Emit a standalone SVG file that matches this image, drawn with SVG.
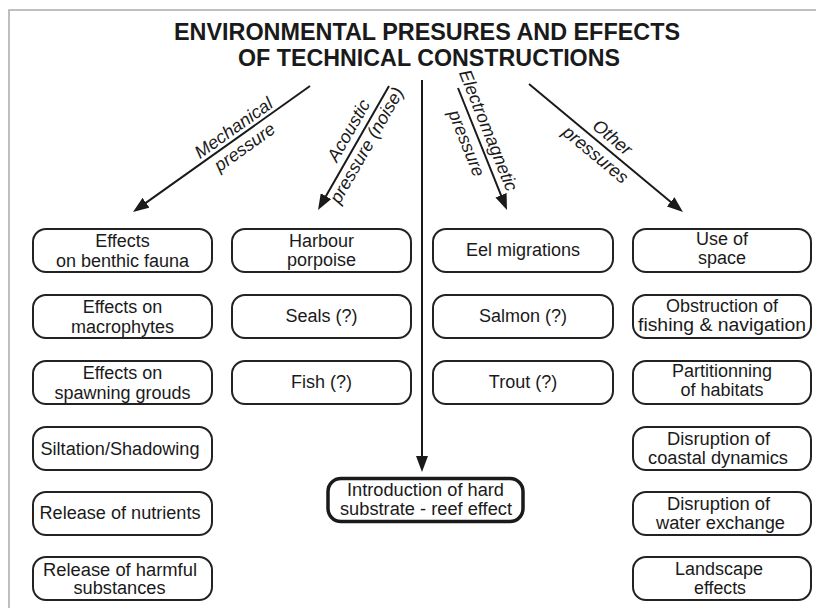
<svg xmlns="http://www.w3.org/2000/svg" width="816" height="608" viewBox="0 0 816 608">
<defs>
<marker id="ah" markerWidth="16" markerHeight="12" refX="8" refY="6" orient="auto" markerUnits="userSpaceOnUse"><path d="M0,0 L16,6 L0,12 z" fill="#1a1a1a"/></marker>
<style>
.bx{fill:#fff;stroke:#222;stroke-width:2}
.bxk{fill:#fff;stroke:#1a1a1a;stroke-width:3.5}
.t{font-family:"Liberation Sans",Arial,sans-serif;font-size:18px;fill:#1a1a1a;text-anchor:middle}
.c{font-family:"Liberation Sans",Arial,sans-serif;font-size:18px;fill:#1a1a1a;text-anchor:middle}
.lb{font-family:"Liberation Sans",Arial,sans-serif;font-size:18px;font-style:italic;fill:#1a1a1a;text-anchor:middle}
.ttl{font-family:"Liberation Sans",Arial,sans-serif;font-size:23px;font-weight:bold;fill:#1a1a1a;text-anchor:middle}
.ln{stroke:#1a1a1a;stroke-width:2;fill:none}
</style>
</defs>
<rect width="816" height="608" fill="#fff"/>
<path d="M9,608 V10 H816" stroke="#aaa" stroke-width="1.5" fill="none"/>
<g id="title">
<text class="ttl" x="427" y="39.5" textLength="506" lengthAdjust="spacingAndGlyphs">ENVIRONMENTAL PRESURES AND EFFECTS</text>
<text class="ttl" x="429" y="66" textLength="382" lengthAdjust="spacingAndGlyphs">OF TECHNICAL CONSTRUCTIONS</text>
</g>
<g id="connectors">
<line class="ln" x1="310" y1="86" x2="139.5" y2="207.4" marker-end="url(#ah)"/>
<line class="ln" x1="389" y1="86" x2="322" y2="203.1" marker-end="url(#ah)"/>
<line class="ln" x1="422" y1="80" x2="422" y2="464" marker-end="url(#ah)"/>
<line class="ln" x1="458" y1="88" x2="504" y2="202.6" marker-end="url(#ah)"/>
<line class="ln" x1="529" y1="84" x2="676.8" y2="206.9" marker-end="url(#ah)"/>
<g transform="translate(241,135) rotate(-35.4)">
<text class="lb" x="-2" y="-4">Mechanical</text>
<text class="lb" x="-4" y="18">pressure</text>
</g>
<g transform="translate(359,138.6) rotate(-60.2)">
<text class="lb" x="2" y="-7">Acoustic</text>
<text class="lb" x="-2" y="16">pressure (noise)</text>
</g>
<g transform="translate(477,137) rotate(68.1)">
<text class="lb" x="-2" y="-7">Electromagnetic</text>
<text class="lb" x="2" y="18">pressure</text>
</g>
<g transform="translate(604,146) rotate(39.7)">
<text class="lb" x="1" y="-6">Other</text>
<text class="lb" x="-1" y="18">pressures</text>
</g>
</g>
<g id="n1"><rect class="bx" x="33" y="229" width="179" height="43" rx="13"/><text class="t" x="122.5" y="247">Effects</text><text class="t" x="122.5" y="266.5">on benthic fauna</text></g>
<g id="n2"><rect class="bx" x="33" y="295" width="179" height="43" rx="13"/><text class="t" x="122.5" y="313">Effects on</text><text class="t" x="122.5" y="332.5">macrophytes</text></g>
<g id="n3"><rect class="bx" x="33" y="361" width="179" height="43" rx="13"/><text class="t" x="122.5" y="379">Effects on</text><text class="t" x="122.5" y="398.5">spawning grouds</text></g>
<g id="n4"><rect class="bx" x="33" y="427" width="179" height="43" rx="13"/><text class="c" x="120" y="455" textLength="159" lengthAdjust="spacingAndGlyphs">Siltation/Shadowing</text></g>
<g id="n5"><rect class="bx" x="33" y="492" width="179" height="43" rx="13"/><text class="c" x="120" y="519" textLength="161" lengthAdjust="spacingAndGlyphs">Release of nutrients</text></g>
<g id="n6"><rect class="bx" x="33" y="557" width="179" height="43" rx="13"/><text class="c" x="120" y="576" textLength="154" lengthAdjust="spacingAndGlyphs">Release of harmful</text><text class="c" x="119.5" y="594" textLength="92" lengthAdjust="spacingAndGlyphs">substances</text></g>
<g id="n7"><rect class="bx" x="232" y="229" width="179" height="43" rx="13"/><text class="t" x="321.5" y="246.5">Harbour</text><text class="t" x="321.5" y="265.5">porpoise</text></g>
<g id="n8"><rect class="bx" x="232" y="295" width="179" height="43" rx="13"/><text class="t" x="321.5" y="322">Seals (?)</text></g>
<g id="n9"><rect class="bx" x="232" y="361" width="179" height="43" rx="13"/><text class="t" x="321.5" y="388">Fish (?)</text></g>
<g id="n10"><rect class="bx" x="433" y="229" width="180" height="43" rx="13"/><text class="t" x="523" y="256">Eel migrations</text></g>
<g id="n11"><rect class="bx" x="433" y="295" width="180" height="43" rx="13"/><text class="t" x="523" y="322">Salmon (?)</text></g>
<g id="n12"><rect class="bx" x="433" y="361" width="180" height="43" rx="13"/><text class="t" x="523" y="388">Trout (?)</text></g>
<g id="n13"><rect class="bx" x="633" y="229" width="178" height="43" rx="13"/><text class="t" x="722" y="245">Use of</text><text class="t" x="722" y="264">space</text></g>
<g id="n14"><rect class="bx" x="633" y="295" width="178" height="43" rx="13"/><text class="t" x="722" y="311.5">Obstruction of</text><text class="t" x="722" y="330.5" textLength="168" lengthAdjust="spacingAndGlyphs">fishing &amp; navigation</text></g>
<g id="n15"><rect class="bx" x="633" y="361" width="178" height="43" rx="13"/><text class="t" x="722" y="377">Partitionning</text><text class="t" x="722" y="396">of habitats</text></g>
<g id="n16"><rect class="bx" x="633" y="427" width="178" height="43" rx="13"/><text class="c" x="718.5" y="445" textLength="103" lengthAdjust="spacingAndGlyphs">Disruption of</text><text class="c" x="718" y="463.5" textLength="140" lengthAdjust="spacingAndGlyphs">coastal dynamics</text></g>
<g id="n17"><rect class="bx" x="633" y="492" width="178" height="43" rx="13"/><text class="c" x="718.5" y="510" textLength="103" lengthAdjust="spacingAndGlyphs">Disruption of</text><text class="c" x="720.5" y="528.5" textLength="129" lengthAdjust="spacingAndGlyphs">water exchange</text></g>
<g id="n18"><rect class="bx" x="633" y="557" width="178" height="43" rx="13"/><text class="c" x="719" y="575" textLength="88" lengthAdjust="spacingAndGlyphs">Landscape</text><text class="c" x="720" y="593.5" textLength="52" lengthAdjust="spacingAndGlyphs">effects</text></g>
<g id="n19"><rect class="bxk" x="328" y="478.5" width="195" height="43" rx="13"/><text class="c" x="425.5" y="496" textLength="157" lengthAdjust="spacingAndGlyphs">Introduction of hard</text><text class="c" x="426" y="514.5" textLength="172" lengthAdjust="spacingAndGlyphs">substrate - reef effect</text></g>
</svg>
